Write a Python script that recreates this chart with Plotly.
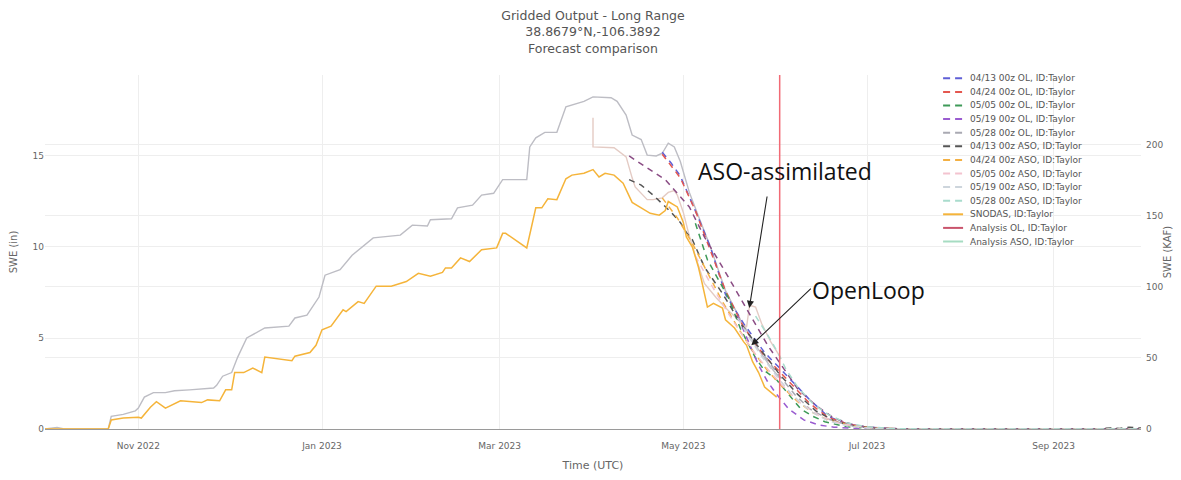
import plotly.graph_objects as go

# ---------------- data ----------------
TITLE_LINES = ["Gridded Output - Long Range", "38.8679°N,-106.3892", "Forecast comparison"]

# Open-loop analysis (drawn grey in the chart)
ol_dates = ["2022-10-01", "2022-10-03", "2022-10-05", "2022-10-07", "2022-10-22", "2022-10-23", "2022-10-27",
            "2022-10-31", "2022-11-01", "2022-11-03", "2022-11-06", "2022-11-10", "2022-11-13", "2022-11-18",
            "2022-11-23", "2022-11-26", "2022-11-27", "2022-11-29", "2022-12-02", "2022-12-04", "2022-12-07",
            "2022-12-13", "2022-12-21", "2022-12-23", "2022-12-27", "2022-12-31", "2023-01-02", "2023-01-07",
            "2023-01-11", "2023-01-18", "2023-01-27", "2023-01-31", "2023-02-05", "2023-02-06", "2023-02-13",
            "2023-02-15", "2023-02-20", "2023-02-23", "2023-02-27", "2023-03-02", "2023-03-10", "2023-03-11",
            "2023-03-13", "2023-03-16", "2023-03-20", "2023-03-23", "2023-03-29", "2023-04-01", "2023-04-07",
            "2023-04-09", "2023-04-12", "2023-04-14", "2023-04-17", "2023-04-19", "2023-04-22", "2023-04-24",
            "2023-04-26", "2023-04-28", "2023-04-30", "2023-05-03", "2023-05-06", "2023-05-10", "2023-05-15",
            "2023-05-20", "2023-05-25", "2023-05-30", "2023-06-02"]
ol_swe = [0, 0.05, 0.08, 0.02, 0, 0.7, 0.8,
          1.0, 1.15, 1.75, 2.0, 2.0, 2.1, 2.15,
          2.2, 2.25, 2.4, 2.9, 3.1, 3.95, 5.0,
          5.55, 5.65, 6.1, 6.25, 7.25, 8.45, 8.75,
          9.55, 10.5, 10.65, 11.2, 11.15, 11.5, 11.55,
          12.15, 12.3, 12.85, 12.95, 13.7, 13.7, 15.5,
          16.0, 16.3, 16.3, 17.7, 18.0, 18.25, 18.2,
          18.0, 17.25, 16.15, 15.9, 15.05, 15.0, 15.15,
          15.7, 15.5, 14.7, 13.0, 11.7, 10.0, 7.6,
          6.0, 4.6, 3.4, 2.8]

# SNODAS
snodas_dates = ["2022-10-01", "2022-10-22", "2022-10-23", "2022-10-27",
                "2022-11-01", "2022-11-02", "2022-11-05", "2022-11-07", "2022-11-10", "2022-11-12", "2022-11-15",
                "2022-11-22", "2022-11-24", "2022-11-28", "2022-11-30",
                "2022-12-02", "2022-12-03", "2022-12-06", "2022-12-09", "2022-12-12", "2022-12-13", "2022-12-22",
                "2022-12-23", "2022-12-28", "2022-12-30",
                "2023-01-01", "2023-01-04", "2023-01-08", "2023-01-09", "2023-01-13", "2023-01-15", "2023-01-19",
                "2023-01-24", "2023-01-29",
                "2023-02-02", "2023-02-06", "2023-02-10", "2023-02-11", "2023-02-13", "2023-02-16", "2023-02-19",
                "2023-02-23", "2023-02-28",
                "2023-03-02", "2023-03-03", "2023-03-10", "2023-03-13", "2023-03-15", "2023-03-17", "2023-03-20",
                "2023-03-23", "2023-03-25", "2023-03-29",
                "2023-04-01", "2023-04-03", "2023-04-05", "2023-04-08", "2023-04-11", "2023-04-14", "2023-04-17",
                "2023-04-20", "2023-04-23", "2023-04-25", "2023-04-26", "2023-04-29",
                "2023-05-01", "2023-05-02", "2023-05-04", "2023-05-06", "2023-05-07", "2023-05-09", "2023-05-11",
                "2023-05-14", "2023-05-15", "2023-05-18", "2023-05-21", "2023-05-22", "2023-05-24", "2023-05-26",
                "2023-05-28", "2023-05-31", "2023-06-01"]
snodas_swe = [0, 0, 0.5, 0.6,
              0.65, 0.6, 1.2, 1.5, 1.15, 1.3, 1.55, 1.45, 1.6, 1.55, 2.15,
              2.15, 3.1, 3.1, 3.35, 3.1, 3.95, 3.75, 4.0, 4.2, 4.6,
              5.45, 5.65, 6.55, 6.45, 7.0, 6.9, 7.85, 7.85, 8.1,
              8.55, 8.4, 8.6, 8.85, 8.85, 9.4, 9.2, 9.85, 9.95,
              10.75, 10.75, 9.95, 12.15, 12.15, 12.65, 12.6, 13.75, 13.95, 14.05,
              14.25, 13.85, 14.05, 13.95, 13.5, 12.45, 12.15, 11.85, 11.75, 12.0, 12.5, 12.2,
              11.35, 10.55, 10.0, 8.9, 8.2, 6.7, 6.9, 6.65, 6.0, 5.55, 4.8, 4.6, 3.7, 3.1, 2.3, 1.85,
              1.75]

# ASO-assimilated analysis (drawn pale pink in the chart)
aso_dates = ["2023-04-01", "2023-04-01", "2023-04-08", "2023-04-12", "2023-04-14", "2023-04-15", "2023-04-19",
             "2023-04-21", "2023-04-24", "2023-04-26", "2023-04-28", "2023-04-29", "2023-05-01", "2023-05-03",
             "2023-05-05", "2023-05-08", "2023-05-12", "2023-05-16", "2023-05-20", "2023-05-22", "2023-05-23",
             "2023-05-25", "2023-05-27", "2023-05-30", "2023-06-02"]
aso_swe = [17.1, 15.5, 15.45, 14.95, 13.8, 13.3, 12.6,
           12.6, 12.7, 13.0, 13.1, 12.85, 11.9, 10.6,
           9.5, 8.0, 7.2, 6.5, 5.9, 5.6, 6.8,
           6.7, 5.8, 4.8, 4.0]

# Forecasts
fc_0413_ol_dates = ["2023-04-24", "2023-04-27", "2023-04-30", "2023-05-03", "2023-05-06", "2023-05-10", "2023-05-15",
                    "2023-05-21", "2023-05-28", "2023-06-04", "2023-06-12", "2023-06-18", "2023-06-24", "2023-07-01",
                    "2023-07-10", "2023-07-20", "2023-09-30"]
fc_0413_ol_swe = [15.2, 14.6, 13.9, 12.8, 11.6, 10.0, 7.4, 5.8, 4.2, 3.0, 1.6, 0.7, 0.3, 0.1, 0.02, 0, 0]

fc_0424_ol_dates = ["2023-04-24", "2023-04-30", "2023-05-05", "2023-05-10", "2023-05-15", "2023-05-21", "2023-05-28",
                    "2023-06-04", "2023-06-12", "2023-06-18", "2023-06-25", "2023-07-03", "2023-07-15", "2023-09-30"]
fc_0424_ol_swe = [15.1, 13.8, 12.0, 9.8, 7.6, 5.6, 4.0, 2.8, 1.4, 0.65, 0.25, 0.05, 0, 0]

fc_0505_ol_dates = ["2023-05-05", "2023-05-09", "2023-05-13", "2023-05-16", "2023-05-20", "2023-05-25", "2023-05-28",
                    "2023-06-01", "2023-06-05", "2023-06-09", "2023-06-13", "2023-06-17", "2023-06-24", "2023-07-02",
                    "2023-07-12", "2023-09-30"]
fc_0505_ol_swe = [11.3, 9.3, 8.1, 7.2, 5.5, 3.9, 3.2, 2.7, 1.9, 1.1, 0.7, 0.4, 0.12, 0.03, 0, 0]

fc_0519_ol_dates = ["2023-05-19", "2023-05-23", "2023-05-26", "2023-05-29", "2023-06-01", "2023-06-05", "2023-06-10",
                    "2023-06-15", "2023-06-20", "2023-06-28", "2023-07-10", "2023-09-30"]
fc_0519_ol_swe = [6.2, 4.6, 3.5, 2.6, 1.9, 1.1, 0.5, 0.22, 0.1, 0.03, 0, 0]

fc_0528_ol_dates = ["2023-05-28", "2023-06-02", "2023-06-07", "2023-06-12", "2023-06-18", "2023-06-25", "2023-07-03",
                    "2023-07-15", "2023-09-30"]
fc_0528_ol_swe = [4.0, 2.9, 1.9, 1.1, 0.55, 0.2, 0.05, 0, 0]

fc_0413_aso_dates = ["2023-04-13", "2023-04-17", "2023-04-21", "2023-04-24", "2023-04-27", "2023-04-30", "2023-05-02",
                     "2023-05-04", "2023-05-08", "2023-05-14", "2023-05-20", "2023-05-26", "2023-06-02", "2023-06-08",
                     "2023-06-14", "2023-06-20", "2023-06-27", "2023-07-05", "2023-07-15", "2023-09-15", "2023-09-20",
                     "2023-09-23", "2023-09-26", "2023-09-30"]
fc_0413_aso_swe = [13.7, 13.4, 12.85, 12.4, 11.9, 11.35, 10.8, 10.4, 8.9, 7.45, 5.8, 4.5, 3.0, 1.9,
                   1.0, 0.45, 0.15, 0.03, 0, 0, 0.06, 0.03, 0.1, 0.05]

fc_0413_aso_b_dates = ["2023-04-13", "2023-04-19", "2023-04-25", "2023-05-03", "2023-05-08", "2023-05-14", "2023-05-19",
                       "2023-05-24", "2023-05-29", "2023-06-03", "2023-06-08", "2023-06-14", "2023-06-20", "2023-06-27",
                       "2023-07-05", "2023-07-15", "2023-09-30"]
fc_0413_aso_b_swe = [15.0, 14.35, 13.7, 12.2, 10.55, 8.9, 7.45, 6.0, 4.6, 3.4, 2.2, 1.3, 0.6, 0.2, 0.05, 0, 0]

fc_0424_aso_dates = ["2023-04-24", "2023-04-29", "2023-05-04", "2023-05-09", "2023-05-14", "2023-05-19", "2023-05-24",
                     "2023-05-29", "2023-06-03", "2023-06-08", "2023-06-13", "2023-06-18", "2023-06-25", "2023-07-03",
                     "2023-07-15", "2023-09-30"]
fc_0424_aso_swe = [12.7, 11.6, 10.2, 8.6, 7.0, 5.6, 4.3, 3.2, 2.3, 1.5, 0.9, 0.5, 0.2, 0.05, 0, 0]

fc_0505_aso_dates = ["2023-05-05", "2023-05-10", "2023-05-15", "2023-05-20", "2023-05-25", "2023-05-30", "2023-06-04",
                     "2023-06-09", "2023-06-15", "2023-06-22", "2023-07-01", "2023-07-12", "2023-09-30"]
fc_0505_aso_swe = [9.5, 8.0, 6.6, 5.3, 4.1, 3.1, 2.2, 1.4, 0.75, 0.3, 0.07, 0, 0]

fc_0519_aso_dates = ["2023-05-19", "2023-05-23", "2023-05-27", "2023-06-01", "2023-06-06", "2023-06-12", "2023-06-18",
                     "2023-06-25", "2023-07-03", "2023-07-15", "2023-09-30"]
fc_0519_aso_swe = [6.1, 5.0, 4.0, 2.9, 1.9, 1.0, 0.45, 0.15, 0.03, 0, 0]

fc_0528_aso_dates = ["2023-05-25", "2023-05-30", "2023-06-02", "2023-06-04", "2023-06-08", "2023-06-13", "2023-06-18",
                     "2023-06-24", "2023-07-01", "2023-07-10", "2023-07-20", "2023-09-30"]
fc_0528_aso_swe = [6.2, 4.9, 4.0, 3.3, 2.3, 1.4, 0.8, 0.35, 0.12, 0.02, 0, 0]

# legend (entries, colours, dashed?)
legend_labels = ["04/13 00z OL, ID:Taylor", "04/24 00z OL, ID:Taylor", "05/05 00z OL, ID:Taylor",
                 "05/19 00z OL, ID:Taylor", "05/28 00z OL, ID:Taylor", "04/13 00z ASO, ID:Taylor",
                 "04/24 00z ASO, ID:Taylor", "05/05 00z ASO, ID:Taylor", "05/19 00z ASO, ID:Taylor",
                 "05/28 00z ASO, ID:Taylor", "SNODAS, ID:Taylor", "Analysis OL, ID:Taylor",
                 "Analysis ASO, ID:Taylor"]
legend_colors = ["#5f5fd6", "#e4574f", "#3e9a58", "#9a5cd0", "#a9a9b2", "#555555", "#f3b043", "#f3c3cf",
                 "#cdd5dc", "#a9dccd", "#f5b43a", "#c9546c", "#a6dcc2"]
legend_dashed = [True] * 10 + [False] * 3

CURRENT_DATE = "2023-06-02"
X_RANGE = ["2022-10-01", "2023-09-30"]
Y_RANGE_IN = [0, 19.45]
Y_RANGE_KAF = [0, 249]

# ---------------- layout geometry (page has an 8px body margin) ----------------
PAGE_OFF = 8
FIG_W, FIG_H = 1165, 464
M_L, M_R, M_T, M_B = 36.5, 32, 67, 43
PLOT_W = FIG_W - M_L - M_R
PLOT_H = FIG_H - M_T - M_B


def px_x(page_x):
    return (page_x - PAGE_OFF - M_L) / PLOT_W


def px_y(page_y):
    return (FIG_H - M_B - (page_y - PAGE_OFF)) / PLOT_H


# ---------------- figure ----------------
FONT = "DejaVu Sans"
DASH = "6px,5px"
fig = go.Figure()


def dashed(name, xs, ys, color):
    fig.add_trace(go.Scatter(x=xs, y=ys, mode="lines", name=name,
                             line=dict(color=color, width=1.5, dash=DASH)))


fig.add_trace(go.Scatter(x=ol_dates, y=ol_swe, mode="lines", name="Analysis OL, ID:Taylor",
                         line=dict(color="#bdbdc4", width=1.4)))
fig.add_trace(go.Scatter(x=aso_dates, y=aso_swe, mode="lines", name="Analysis ASO, ID:Taylor",
                         line=dict(color="#e4cbc4", width=1.4)))

dashed("04/13 00z OL, ID:Taylor", fc_0413_ol_dates, fc_0413_ol_swe, "#5f5fd6")
dashed("04/24 00z OL, ID:Taylor", fc_0424_ol_dates, fc_0424_ol_swe, "#e4574f")
dashed("05/05 00z OL, ID:Taylor", fc_0505_ol_dates, fc_0505_ol_swe, "#3e9a58")
dashed("05/19 00z OL, ID:Taylor", fc_0519_ol_dates, fc_0519_ol_swe, "#9a5cd0")
dashed("05/28 00z OL, ID:Taylor", fc_0528_ol_dates, fc_0528_ol_swe, "#a9a9b2")
dashed("04/13 00z ASO, ID:Taylor", fc_0413_aso_dates, fc_0413_aso_swe, "#555555")
dashed("04/13 00z ASO (b), ID:Taylor", fc_0413_aso_b_dates, fc_0413_aso_b_swe, "#8a4c84")
dashed("04/24 00z ASO, ID:Taylor", fc_0424_aso_dates, fc_0424_aso_swe, "#f3b043")
dashed("05/05 00z ASO, ID:Taylor", fc_0505_aso_dates, fc_0505_aso_swe, "#f3c3cf")
dashed("05/19 00z ASO, ID:Taylor", fc_0519_aso_dates, fc_0519_aso_swe, "#cdd5dc")
dashed("05/28 00z ASO, ID:Taylor", fc_0528_aso_dates, fc_0528_aso_swe, "#a9dccd")

fig.add_trace(go.Scatter(x=snodas_dates, y=snodas_swe, mode="lines", name="SNODAS, ID:Taylor",
                         line=dict(color="#f5b43a", width=1.5)))

# empty trace on the secondary (KAF) axis so it is drawn
fig.add_trace(go.Scatter(x=[None], y=[None], mode="lines", yaxis="y2", hoverinfo="skip"))

# current-date marker
fig.add_shape(type="line", xref="x", yref="paper", x0=CURRENT_DATE, x1=CURRENT_DATE, y0=0, y1=1,
              line=dict(color="#f26a75", width=1.5))

# compact legend box (white background + swatches + labels)
LEG_TOP, LEG_STEP = 78.3, 13.6
fig.add_shape(type="rect", xref="paper", yref="paper", layer="between",
              x0=px_x(937), x1=px_x(1086), y0=px_y(249), y1=px_y(70),
              fillcolor="white", line=dict(width=0))
for i, (lab, col, dsh) in enumerate(zip(legend_labels, legend_colors, legend_dashed)):
    yy = px_y(LEG_TOP + LEG_STEP * i)
    fig.add_shape(type="line", xref="paper", yref="paper",
                  x0=px_x(943), x1=px_x(962 if dsh else 963), y0=yy, y1=yy,
                  line=dict(color=col, width=2, dash="7px,5px" if dsh else "solid"))
    fig.add_annotation(xref="paper", yref="paper", x=px_x(968), y=yy, text=lab, showarrow=False,
                       xanchor="left", yanchor="middle",
                       font=dict(family=FONT, size=9, color="#555555"))

# call-outs
fig.add_annotation(xref="paper", yref="paper", x=px_x(785), y=px_y(171), text="ASO-assimilated",
                   showarrow=False, xanchor="center", yanchor="middle",
                   font=dict(family="Open Sans", size=23, color="#111111"))
fig.add_annotation(xref="paper", yref="paper", x=px_x(868), y=px_y(290), text="OpenLoop",
                   showarrow=False, xanchor="center", yanchor="middle",
                   font=dict(family="Open Sans", size=23, color="#111111"))
fig.add_annotation(x="2023-05-22 22:00", y=6.65, text="", showarrow=True, ax=18, ay=-113,
                   arrowhead=2, arrowsize=1.3, arrowwidth=1.1, arrowcolor="#222222")
fig.add_annotation(x="2023-05-23 14:00", y=4.6, text="", showarrow=True, ax=61, ay=-58,
                   arrowhead=2, arrowsize=1.3, arrowwidth=1.1, arrowcolor="#222222")

fig.update_layout(
    width=FIG_W, height=FIG_H,
    margin=dict(l=M_L, r=M_R, t=M_T, b=M_B, pad=0, autoexpand=False),
    paper_bgcolor="white", plot_bgcolor="white",
    font=dict(family=FONT, size=9, color="#666666"),
    title=dict(text="<br>".join(TITLE_LINES), x=0.5, xref="paper", xanchor="center",
               y=0.974, yref="container", yanchor="top",
               font=dict(family=FONT, size=12.5, color="#555555")),
    showlegend=False,
    xaxis=dict(type="date", range=X_RANGE, dtick="M2", tick0="2022-11-01", tickformat="%b %Y",
               showgrid=True, gridcolor="#eeeeee", showline=True, linecolor="#9a9a9a", linewidth=1,
               zeroline=False, ticks="", ticklabelstandoff=8, automargin=False,
               title=dict(text="Time (UTC)", standoff=12, font=dict(size=11, color="#666666"))),
    yaxis=dict(range=Y_RANGE_IN, dtick=5, showgrid=True, gridcolor="#eeeeee", zeroline=False,
               automargin=False,
               title=dict(text="SWE (in)", font=dict(size=10, color="#666666"))),
    yaxis2=dict(range=Y_RANGE_KAF, dtick=50, overlaying="y", side="right", showgrid=True,
                gridcolor="#eeeeee", zeroline=False, automargin=False, ticklabelstandoff=4,
                title=dict(text="SWE (KAF)", standoff=2, font=dict(size=10, color="#666666"))),
)

fig.write_html("out.html")
